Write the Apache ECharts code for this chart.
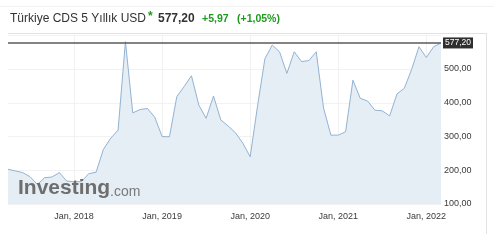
<!DOCTYPE html>
<html>
<head>
<meta charset="utf-8">
<script src="https://cdn.jsdelivr.net/npm/echarts@6/dist/echarts.min.js"></script>
<style>html,body{margin:0;padding:0;background:#fff;}#c{width:494px;height:243px;}</style>
</head>
<body>
<div id="c"></div>
<script>
// Monthly categories Apr 2017 .. Mar 2022
var monthNames = ['Jan','Feb','Mar','Apr','May','Jun','Jul','Aug','Sep','Oct','Nov','Dec'];
var categories = [];
(function(){
  var y = 2017, m = 3;
  for (var i = 0; i < 60; i++) {
    categories.push(monthNames[m] + ', ' + y);
    m++; if (m === 12) { m = 0; y++; }
  }
})();
var cdsValues = [
  203, 198, 193, 181, 158, 178, 180, 193, 168,
  166, 166, 190, 194, 262, 295, 319, 581, 370, 380, 383, 357,
  300, 299, 418, 448, 480, 393, 354, 420, 349, 331, 311, 280,
  240, 390, 530, 571, 551, 487, 551, 522, 525, 551, 384, 304,
  304, 314, 467, 413, 405, 378, 376, 361, 426, 443, 499, 566,
  534, 566, 577.2
];
var lastValue = 577.2;
var yTicks = [100, 200, 300, 400, 500];
var titleText = 'Türkiye CDS 5 Yıllık USD';
var priceText = '577,20';
var changeText = '+5,97';
var changePctText = '(+1,05%)';

function fmt(v){ return v.toFixed(2).replace('.', ','); }

var chart = echarts.init(document.getElementById('c'), null, {renderer:'canvas'});
var isJan = function(idx){ return categories[idx].indexOf('Jan') === 0; };
chart.setOption({
  animation: false,
  backgroundColor: '#fff',
  grid: {left: 8, right: 53, top: 35.25, bottom: 39, containLabel: false},
  xAxis: {
    type: 'category',
    data: categories,
    boundaryGap: false,
    axisLine: {show: false},
    axisTick: {show: false},
    axisLabel: {
      interval: function(idx){ return isJan(idx); },
      color: '#3a3a3a', fontSize: 9, fontFamily: 'Arial, Liberation Sans', margin: 8
    },
    splitLine: {show: true, interval: function(idx){ return isJan(idx); }, lineStyle: {color: '#f1f1f1', width: 1}}
  },
  yAxis: {
    type: 'value',
    position: 'right',
    min: 100, max: 600, interval: 100,
    axisLine: {show: false},
    axisTick: {show: false},
    axisLabel: {
      showMaxLabel: false,
      color: '#3a3a3a', fontSize: 9, fontFamily: 'Arial, Liberation Sans', margin: 3,
      formatter: function(v){ return yTicks.indexOf(v) >= 0 ? fmt(v) : ''; }
    },
    splitLine: {show: true, lineStyle: {color: '#f2f2f2', width: 1}}
  },
  series: [{
    type: 'line',
    data: cdsValues,
    symbol: 'none',
    lineStyle: {color: '#93b3d2', width: 1},
    areaStyle: {color: '#e5edf5', opacity: 1},
    z: 2,
    markLine: {
      silent: true,
      symbol: 'none',
      lineStyle: {color: '#5a5a5a', width: 1.5, type: 'solid'},
      label: {
        show: true, position: 'end', distance: 2,
        formatter: fmt(lastValue),
        color: '#fff', backgroundColor: '#2f2f2f', fontSize: 8.5,
        fontFamily: 'Arial, Liberation Sans', padding: [1, 2, 1, 2]
      },
      data: [{yAxis: lastValue}]
    }
  }],
  graphic: [
    {type: 'line', shape: {x1: 8, y1: 33.5, x2: 486, y2: 33.5}, style: {stroke: '#e2e2e2', lineWidth: 1}, silent: true},
    {type: 'line', shape: {x1: 486.5, y1: 33, x2: 486.5, y2: 234}, style: {stroke: '#e2e2e2', lineWidth: 1}, silent: true},
    {type: 'line', shape: {x1: 0, y1: 6.5, x2: 494, y2: 6.5}, style: {stroke: '#f2f2f2', lineWidth: 1}, silent: true},
    {type: 'text', left: 10, top: 13, style: {text: titleText, fontSize: 12, fontFamily: 'Arial, Liberation Sans', fill: '#333'}},
    {type: 'text', left: 148, top: 11, style: {text: '*', fontSize: 12, fontWeight: 'bold', fontFamily: 'Arial, Liberation Sans', fill: '#1e9a1e'}},
    {type: 'text', left: 158, top: 13, style: {text: priceText, fontSize: 12, fontWeight: 'bold', fontFamily: 'Arial, Liberation Sans', fill: '#333'}},
    {type: 'text', left: 202, top: 14, style: {text: changeText, fontSize: 10.5, fontWeight: 'bold', fontFamily: 'Arial, Liberation Sans', fill: '#1e9a1e'}},
    {type: 'text', left: 237, top: 14, style: {text: changePctText, fontSize: 10.5, fontWeight: 'bold', fontFamily: 'Arial, Liberation Sans', fill: '#1e9a1e'}},
    {type: 'text', left: 18, top: 178, z: 10, style: {text: 'Investing', fontSize: 21, fontWeight: 'bold', fontFamily: 'Arial, Liberation Sans', fill: '#6e6e6e'}},
    {type: 'text', left: 110, top: 185, z: 10, style: {text: '.com', fontSize: 14, fontFamily: 'Arial, Liberation Sans', fill: '#7a7a7a'}}
  ]
});
</script>
</body>
</html>
